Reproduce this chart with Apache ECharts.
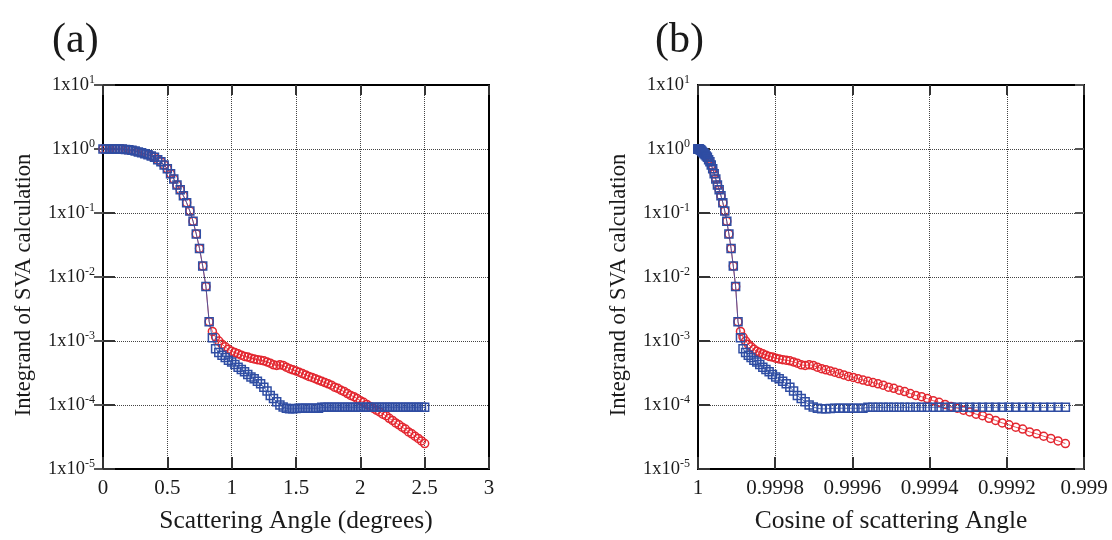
<!DOCTYPE html>
<html>
<head>
<meta charset="utf-8">
<script src="https://cdn.jsdelivr.net/npm/echarts@6/dist/echarts.min.js"></script>
<style>html,body{margin:0;padding:0;background:#fff;}#c{width:1112px;height:540px;}</style>
</head>
<body>
<div id="c"></div>
<script>
// Scattering angle (degrees) of each sample
var angles = [0,0.025,0.05,0.075,0.1,0.125,0.15,0.175,0.2,0.225,0.25,0.275,0.3,0.325,0.35,0.375,0.4,0.425,0.45,0.475,0.5,0.525,0.55,0.575,0.6,0.625,0.65,0.675,0.7,0.725,0.75,0.775,0.8,0.825,0.85,0.875,0.9,0.925,0.95,0.975,1,1.025,1.05,1.075,1.1,1.125,1.15,1.175,1.2,1.225,1.25,1.275,1.3,1.325,1.35,1.375,1.4,1.425,1.45,1.475,1.5,1.525,1.55,1.575,1.6,1.625,1.65,1.675,1.7,1.725,1.75,1.775,1.8,1.825,1.85,1.875,1.9,1.925,1.95,1.975,2,2.025,2.05,2.075,2.1,2.125,2.15,2.175,2.2,2.225,2.25,2.275,2.3,2.325,2.35,2.375,2.4,2.425,2.45,2.475,2.5];

// Blue squares series
var blueValues = [1,1,1,1,1,1,1,0.98,0.97,0.955,0.93,0.90,0.87,0.84,0.81,0.78,0.74,0.68,0.63,0.56,0.49,0.41,0.34,0.275,0.23,0.186,0.145,0.107,0.074,0.047,0.028,0.0148,0.0071,0.002,
  1.12e-3,7.6e-4,6.6e-4,6.0e-4,5.5e-4,5.0e-4,4.7e-4,4.3e-4,3.9e-4,3.6e-4,3.3e-4,3.0e-4,2.75e-4,2.57e-4,2.34e-4,2.14e-4,1.9e-4,1.66e-4,1.41e-4,1.26e-4,1.12e-4,1.0e-4,9.3e-5,8.9e-5,8.7e-5,8.7e-5,8.8e-5,
  8.9e-5,8.9e-5,8.9e-5,8.9e-5,8.9e-5,8.9e-5,8.9e-5,
  9.2e-5,9.2e-5,9.2e-5,9.2e-5,9.2e-5,9.2e-5,9.2e-5,9.2e-5,9.2e-5,9.2e-5,9.2e-5,9.2e-5,9.2e-5,9.2e-5,9.2e-5,9.2e-5,9.2e-5,9.2e-5,9.2e-5,9.2e-5,9.2e-5,9.2e-5,9.2e-5,9.2e-5,9.2e-5,9.2e-5,9.2e-5,9.2e-5,9.2e-5,9.2e-5,9.2e-5,9.2e-5,9.2e-5];

// Red circles series
var redValues = [1,1,1,1,1,1,1,0.98,0.97,0.955,0.93,0.90,0.87,0.84,0.81,0.78,0.74,0.68,0.63,0.56,0.49,0.41,0.34,0.275,0.23,0.186,0.145,0.107,0.074,0.047,0.028,0.0148,0.0071,0.002,
  1.41e-3,1.15e-3,1.0e-3,8.9e-4,8.1e-4,7.4e-4,6.9e-4,6.6e-4,6.3e-4,6.0e-4,5.75e-4,5.6e-4,5.4e-4,5.25e-4,5.1e-4,5.0e-4,4.9e-4,4.7e-4,4.5e-4,4.25e-4,4.15e-4,4.25e-4,4.15e-4,3.9e-4,3.7e-4,3.55e-4,
  3.4e-4,3.25e-4,3.1e-4,2.95e-4,2.8e-4,2.7e-4,2.57e-4,2.45e-4,2.34e-4,2.24e-4,2.14e-4,2.04e-4,1.9e-4,1.82e-4,1.7e-4,1.62e-4,1.51e-4,1.41e-4,1.35e-4,1.26e-4,
  1.17e-4,1.1e-4,1.02e-4,9.5e-5,8.9e-5,8.3e-5,7.8e-5,7.2e-5,6.8e-5,6.2e-5,5.75e-5,5.25e-5,4.9e-5,4.5e-5,4.2e-5,3.8e-5,3.55e-5,3.25e-5,3.0e-5,2.75e-5,2.5e-5];

var panelTitles = ['(a)', '(b)'];
var xNames = ['Scattering Angle (degrees)', 'Cosine of scattering Angle'];
var yName = 'Integrand of SVA calculation';

var FONT = 'Liberation Serif';
var TXT = '#1a1a1a';
var BLUE = '#2f4da3';
var RED = '#e3262f';

function cosDeg(a){ return Math.cos(a * Math.PI / 180); }

var leftBlue = angles.map(function(a,i){ return [a, blueValues[i]]; });
var leftRed = angles.map(function(a,i){ return [a, redValues[i]]; });
var rightBlue = angles.map(function(a,i){ return [cosDeg(a), blueValues[i]]; });
var rightRed = angles.map(function(a,i){ return [cosDeg(a), redValues[i]]; });

function yMain(gi){
  return {
    type:'log', logBase:10, gridIndex:gi, min:1e-5, max:10, interval:1,
    name: yName, nameLocation:'middle', nameGap:67, nameRotate:90,
    nameTextStyle:{fontFamily:FONT, fontSize:22.5, color:TXT, padding:[0,16,0,0]},
    axisLine:{show:false},
    axisTick:{show:true, inside:true, length:12, lineStyle:{color:'#333', width:2}},
    axisLabel:{margin:8, formatter:function(v){ var e = Math.round(Math.log10(v)); return '{b|1x10}{s|' + e + '}'; },
      rich:{ b:{fontFamily:FONT, fontSize:18.5, color:TXT}, s:{fontFamily:FONT, fontSize:12, color:TXT, padding:[0,0,10,0]} } },
    splitLine:{show:true, showMinLine:false, showMaxLine:false, lineStyle:{type:'dotted', color:'#444', width:1}}
  };
}
function yRight(gi){
  return {
    type:'log', logBase:10, gridIndex:gi, min:1e-5, max:10, interval:1, position:'right',
    axisLine:{show:false}, axisLabel:{show:false}, splitLine:{show:false},
    axisTick:{show:true, inside:true, length:9, lineStyle:{color:'#555', width:2}}
  };
}
function xMain(gi, opts){
  var o = {
    type:'value', gridIndex:gi,
    name: xNames[gi], nameLocation:'middle', nameGap:39,
    nameTextStyle:{fontFamily:FONT, fontSize:25.5, color:TXT},
    axisLine:{show:false},
    axisTick:{show:true, inside:true, length:12, lineStyle:{color:'#333', width:2}},
    axisLabel:{margin:9, fontFamily:FONT, fontSize:21, color:TXT},
    splitLine:{show:true, showMinLine:false, showMaxLine:false, lineStyle:{type:'dotted', color:'#444', width:1}}
  };
  for (var k in opts) o[k] = opts[k];
  return o;
}
function xTop(gi, opts){
  var o = {
    type:'value', gridIndex:gi, position:'top',
    axisLine:{show:false}, axisLabel:{show:false}, splitLine:{show:false},
    axisTick:{show:true, inside:true, length:10, lineStyle:{color:'#333', width:2}}
  };
  for (var k in opts) o[k] = opts[k];
  return o;
}

var aRange = {min:0, max:3, interval:0.5};
var bRange = {min:0.999, max:1, interval:0.0002, inverse:true};
var bLabel = {margin:9, fontFamily:FONT, fontSize:21, color:TXT, formatter:function(v){ return String(parseFloat(v.toFixed(4))); }};

var xb = xMain(1, bRange); xb.axisLabel = bLabel;

function lineSeries(xi, yi, data, color, symbol, z){
  return {
    type:'line', xAxisIndex:xi, yAxisIndex:yi, data:data, z:z,
    symbol:symbol, symbolSize:8, showAllSymbol:true,
    lineStyle:{color:color, width:1, opacity:0.8},
    itemStyle:{color:'rgba(255,255,255,0)', borderColor:color, borderWidth:1.5},
    emphasis:{disabled:true}
  };
}

var option = {
  animation:false,
  backgroundColor:'#fff',
  title:[
    {text:panelTitles[0], left:47, top:15, textStyle:{fontFamily:FONT, fontSize:42, fontWeight:'normal', color:TXT}},
    {text:panelTitles[1], left:650, top:15, textStyle:{fontFamily:FONT, fontSize:42, fontWeight:'normal', color:TXT}}
  ],
  grid:[
    {left:103, top:85, width:386, height:384, show:true, borderColor:'#000', borderWidth:2, backgroundColor:'transparent'},
    {left:698, top:85, width:386, height:384, show:true, borderColor:'#000', borderWidth:2, backgroundColor:'transparent'}
  ],
  xAxis:[ xMain(0, aRange), xTop(0, aRange), xb, xTop(1, bRange) ],
  yAxis:[ yMain(0), yRight(0), yMain(1), yRight(1) ],
  series:[
    lineSeries(0, 0, leftRed, RED, 'circle', 2),
    lineSeries(0, 0, leftBlue, BLUE, 'rect', 3),
    lineSeries(2, 2, rightRed, RED, 'circle', 2),
    lineSeries(2, 2, rightBlue, BLUE, 'rect', 3)
  ]
};
var chart = echarts.init(document.getElementById('c'), null, {renderer:'canvas'});
chart.setOption(option);
</script>
</body>
</html>
